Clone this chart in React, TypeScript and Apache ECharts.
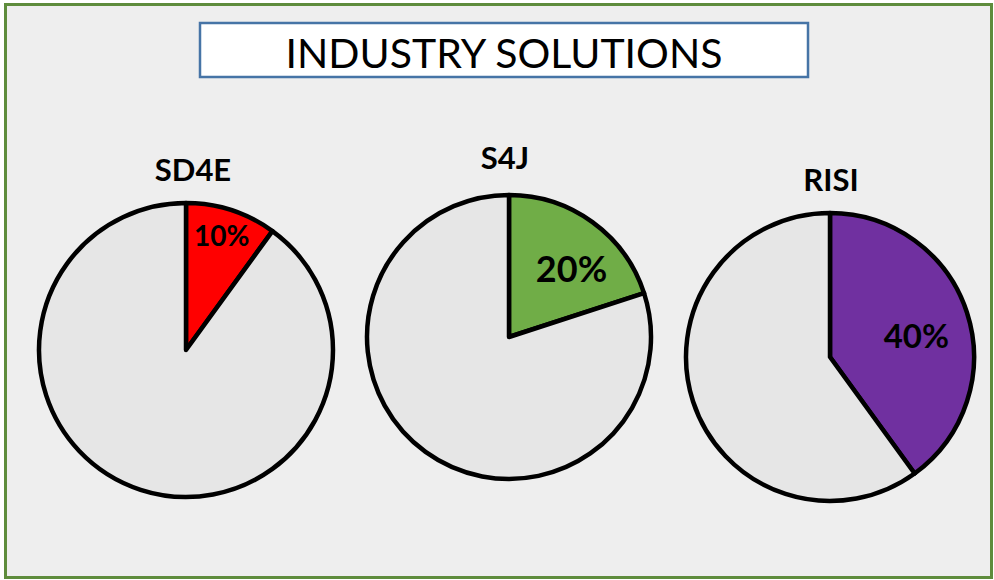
import React, { useEffect, useRef } from "react";
import * as echarts from "echarts";

const chartTitle = "INDUSTRY SOLUTIONS";
const categories = ["SD4E", "S4J", "RISI"];
const shareValues = [10, 20, 40];
const remainderValues = [90, 80, 60];
const sliceColors = ["#FF0000", "#70AD47", "#7030A0"];

const layouts = [
  { cx: 186, cy: 350, r: 147, tx: 193, ty: 169, fs: 28, dx: 12, dy: -42 },
  { cx: 509, cy: 337, r: 142, tx: 505, ty: 157, fs: 36, dx: 19, dy: -9 },
  { cx: 830, cy: 357, r: 144, tx: 831, ty: 179, fs: 33, dx: 15, dy: 1 },
];

export default function App() {
  const ref = useRef<HTMLDivElement>(null);
  useEffect(() => {
    if (!ref.current) return;
    const chart = echarts.init(ref.current, null, { renderer: "svg" });
    const font = "Lato, 'Open Sans', sans-serif";
    const series = categories.map((name, i) => {
      const L = layouts[i];
      return {
        type: "pie",
        name,
        center: [L.cx, L.cy],
        radius: [0, L.r],
        startAngle: 90,
        clockwise: true,
        silent: true,
        z: 5,
        itemStyle: { borderColor: "#000000", borderWidth: 4.5, borderJoin: "round" },
        labelLine: { show: false },
        labelLayout: { dx: L.dx, dy: L.dy },
        data: [
          {
            name: name + " share",
            value: shareValues[i],
            itemStyle: { color: sliceColors[i] },
            label: {
              show: true,
              position: "inside",
              formatter: (p: any) => `${p.value}%`,
              color: "#000",
              fontWeight: "bold",
              fontSize: L.fs,
              fontFamily: font,
            },
          },
          {
            name: name + " rest",
            value: remainderValues[i],
            itemStyle: { color: "#E6E6E6" },
            label: { show: false },
          },
        ],
      };
    });
    const titleTexts = categories.map((name, i) => ({
      type: "text",
      x: layouts[i].tx,
      y: layouts[i].ty,
      z: 10,
      style: {
        text: name,
        fill: "#000",
        font: `bold 31px ${font}`,
        textAlign: "center",
        textVerticalAlign: "middle",
      },
    }));
    chart.setOption({
      animation: false,
      backgroundColor: "#FFFFFF",
      graphic: [
        {
          type: "rect",
          z: -10,
          shape: { x: 5.5, y: 4.5, width: 986, height: 573 },
          style: { fill: "#EEEEEE", stroke: "#5E8C3C", lineWidth: 3 },
        },
        {
          type: "rect",
          z: -5,
          shape: { x: 200, y: 23, width: 608, height: 54 },
          style: { fill: "#FFFFFF", stroke: "#4674A6", lineWidth: 2.5 },
        },
        {
          type: "text",
          x: 504,
          y: 52,
          z: 10,
          style: {
            text: chartTitle,
            fill: "#000",
            font: `41px ${font}`,
            textAlign: "center",
            textVerticalAlign: "middle",
          },
        },
        ...titleTexts,
      ],
      series,
    });
    return () => chart.dispose();
  }, []);
  return (
    <div
      ref={ref}
      style={{ position: "absolute", left: 0, top: 0, width: 994, height: 580 }}
    />
  );
}
